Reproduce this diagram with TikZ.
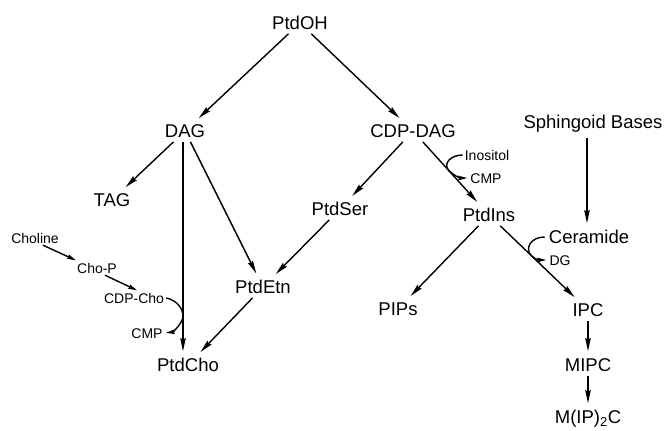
\documentclass[tikz,border=0pt]{standalone}
\usepackage{fontspec}
\setmainfont{Liberation Sans}
\usetikzlibrary{arrows.meta}
\begin{document}
\begin{tikzpicture}[x=1pt,y=-1pt,
  big/.style={font=\fontsize{18.5}{20}\selectfont, inner sep=4pt, text height=13.3pt, text depth=0pt},
  small/.style={font=\fontsize{14}{16}\selectfont, inner sep=2pt, text height=10pt, text depth=0pt},
  arr/.style={-{Stealth[length=13pt,width=5.5pt,inset=1.5pt]}, line width=1.4pt, shorten >=3pt},
  sarr/.style={-{Stealth[length=9pt,width=4.5pt,inset=1pt]}, line width=1.4pt, shorten >=1pt}]
\useasboundingbox (0,0) rectangle (667,431);
% main nodes
\node[big] (PtdOH)  at (300,23)  {PtdOH};
\node[big] (DAG)    at (185,131) {DAG};
\node[big] (CDPDAG) at (413,131) {CDP-DAG};
\node[big] (Sph)    at (593,122) {Sphingoid Bases};
\node[big] (TAG)    at (112,200) {TAG};
\node[big] (PtdSer) at (340,209) {PtdSer};
\node[big] (PtdIns) at (489,215) {PtdIns};
\node[big] (Cer)    at (589,237) {Ceramide};
\node[big] (PtdEtn) at (263,287) {PtdEtn};
\node[big] (PtdCho) at (188,365) {PtdCho};
\node[big] (PIPs)   at (398,309) {PIPs};
\node[big] (IPC)    at (588,310) {IPC};
\node[big] (MIPC)   at (588,365) {MIPC};
\node[big] (MIP2C)  at (588,417) {M(IP)\textsubscript{2}C};
% small nodes
\node[small] (Choline) at (35,238)  {Choline};
\node[small] (ChoP)    at (97,268)  {Cho-P};
\node[small] (CDPCho)  at (134,298) {CDP-Cho};
\node[small] (CMPl)    at (147,333) {CMP};
\node[small] (Inos)    at (487,155) {Inositol};
\node[small] (CMPr)    at (486,178) {CMP};
\node[small] (DG)      at (560,260) {DG};
% main arrows
\draw[arr] (PtdOH) -- (DAG);
\draw[arr] (PtdOH) -- (CDPDAG);
\draw[arr] (DAG) -- (TAG);
\draw[arr] ([xshift=-2pt]DAG.south) -- ([xshift=-2pt]DAG.south |- PtdCho.north);
\draw[arr] (DAG) -- (PtdEtn);
\draw[arr] (CDPDAG) -- (PtdSer);
\draw[arr] (CDPDAG) -- (PtdIns);
\draw[arr] (PtdSer) -- (PtdEtn);
\draw[arr] (PtdEtn) -- (PtdCho);
\draw[arr] (PtdIns) -- (PIPs);
\draw[arr] (PtdIns) -- (IPC);
\draw[arr, shorten <=5pt] ([xshift=-2pt]Cer |- Sph.south) -- ([xshift=-2pt]Cer.north);
\draw[arr] (IPC) -- (MIPC);
\draw[arr] (MIPC) -- (MIP2C);
\draw[sarr] ([xshift=8pt]Choline.south) -- ([xshift=2pt]ChoP.north west);
\draw[sarr] ([xshift=8pt]ChoP.south) -- ([xshift=4pt]CDPCho.north);
% side reactions
\coordinate (choT) at (183,316);
\path (CDPDAG) -- (PtdIns) coordinate[pos=0.46] (inoT);
\path (PtdIns) -- (IPC) coordinate[pos=0.40] (cerT);
\draw[sarr] (CDPCho.east) .. controls +(10,2) and +(0,-8) .. (choT) .. controls +(0,7) and +(8,-1) .. (CMPl.east);
\draw[sarr] (Inos.west) .. controls +(-12,0) and +(-6,-7) .. (inoT) .. controls +(5,5) and +(-8,0) .. (CMPr.west);
\draw[sarr] (Cer.west) .. controls +(-14,0) and +(-6,-7) .. (cerT) .. controls +(5,5) and +(-8,0) .. (DG.west);
\end{tikzpicture}
\end{document}
